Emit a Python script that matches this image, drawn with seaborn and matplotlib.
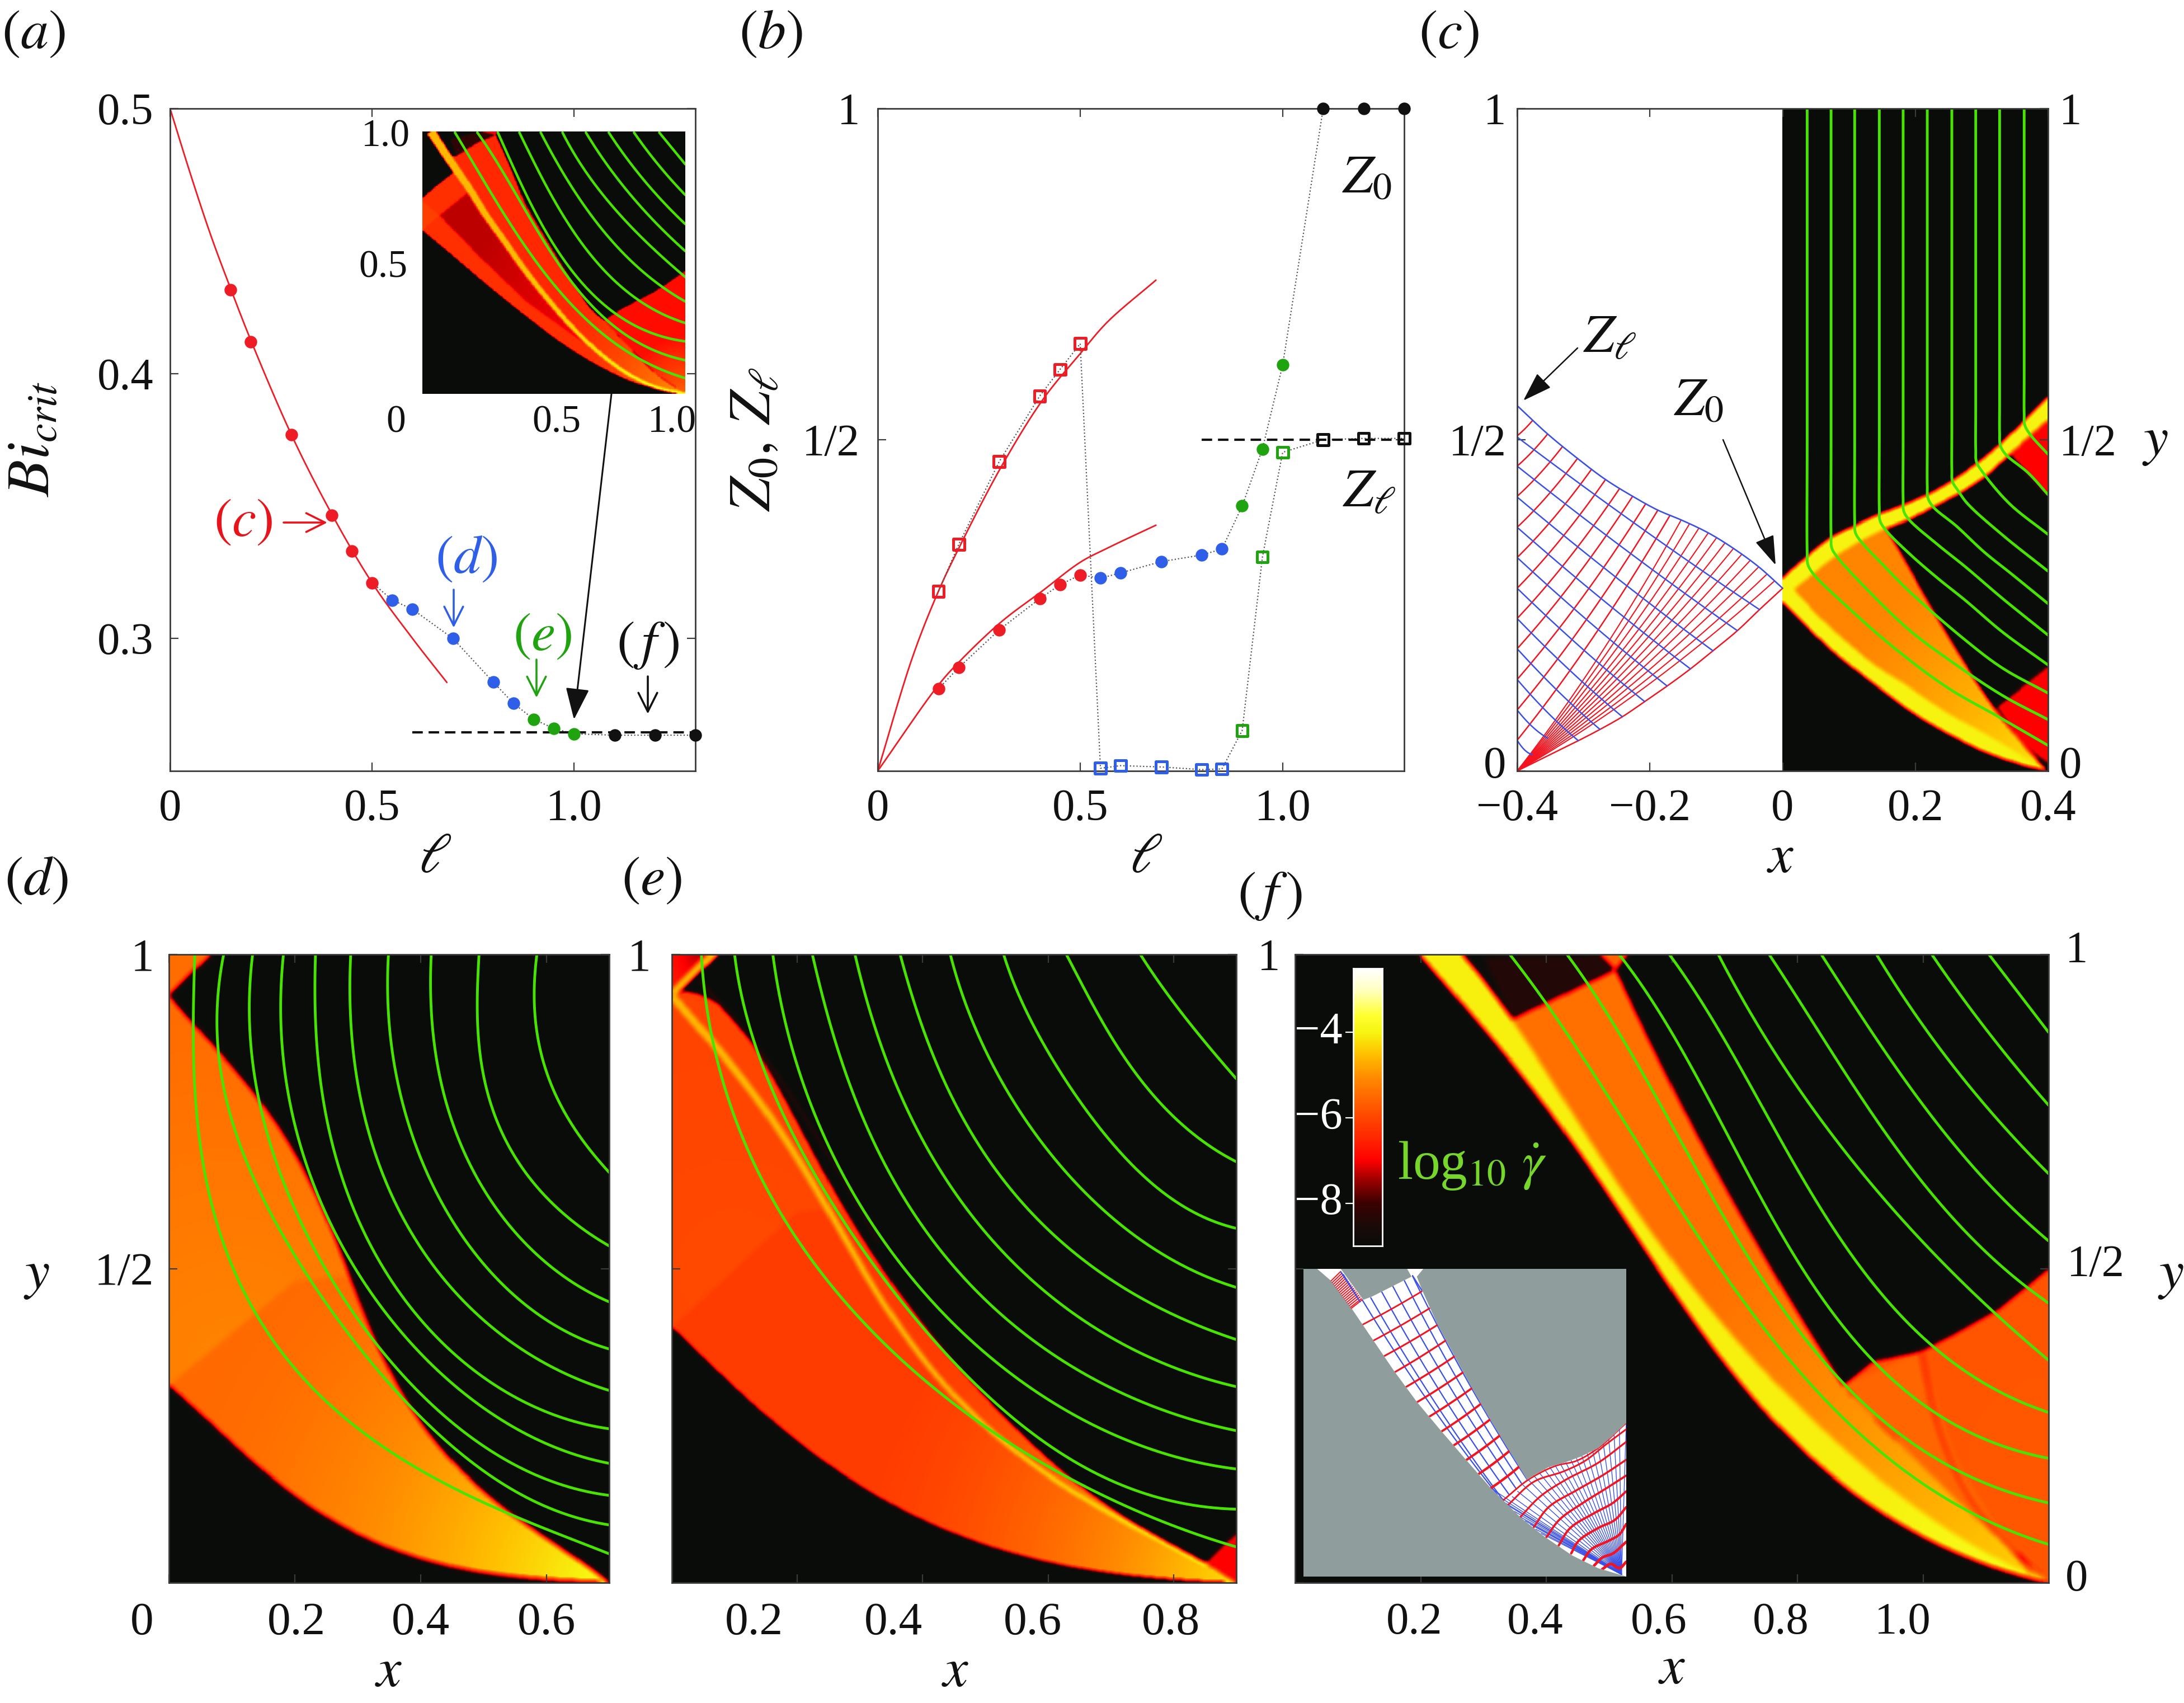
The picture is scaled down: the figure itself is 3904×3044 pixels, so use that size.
import numpy as np, pandas as pd
import matplotlib
matplotlib.use("Agg")
import matplotlib.pyplot as plt
import seaborn as sns
from matplotlib.path import Path
from matplotlib.patches import Polygon, FancyArrowPatch
from matplotlib.colors import LinearSegmentedColormap
from matplotlib.transforms import Affine2D

W, H = 3905, 3044
sns.set_theme(style="white")
plt.rcParams.update({"font.family": ["Liberation Serif", "DejaVu Serif"], "mathtext.fontset": "stix"})

RED, BLUE, GREEN, BLACK = "#ee1c25", "#2f5fe8", "#1fa30f", "#111111"
LINE_G = "#48e400"
M_BLUE, M_RED = "#3a50e6", "#f2141f"
SPINE = "#3a3a3a"

# ---------- panel a / b data ----------
ell_red = [.15, .2, .3, .4, .45, .5]
ell_blue = [.55, .6, .7, .8, .85]
ell_green = [.9, .95, 1.0]
ell_black = [1.1, 1.2, 1.3]
bi_red = [.4315, .412, .377, .3465, .333, .321]
bi_blue = [.3145, .311, .3, .2835, .2755]
bi_green = [.2695, .266, .264]
bi_black = [.2635, .2635, .2635]
bi_curve_x = [0, .05, .1, .15, .2, .3, .4, .5, .6, .685]
bi_curve_y = [.5, .4755, .4525, .432, .4125, .377, .347, .321, .3, .2834]

z0_red = [.124, .156, .213, .26, .281, .296]
z0_blue = [.291, .299, .316, .326, .335]
z0_green = [.40, .486, .613]
z0_black = [1, 1, 1]
zl_red = [.271, .342, .467, .566, .606, .645]
zl_blue = [.004, .008, .006, .002, .003]
zl_green = [.061, .323, .481]
zl_black = [.50, .502, .502]
zup_x = [0, .086, .149, .2, .303, .407, .5, .566, .687]
zup_y = [0, .172, .27, .336, .457, .56, .63, .677, .741]
zlo_x = [0, .149, .2, .303, .407, .5, .566, .687]
zlo_y = [0, .129, .164, .224, .272, .315, .336, .371]

# ---------- colour scale ----------
V_MIN, V_MAX = -9, -2.5
cstops = [(-9, "#0a0c0a"), (-8.5, "#1c0a08"), (-8, "#3c0000"), (-7.4, "#a80000"), (-7, "#ff0000"),
          (-6.4, "#ff2c00"), (-6, "#ff4500"), (-5.4, "#ff7000"), (-5, "#ff9000"), (-4.5, "#ffc000"),
          (-4, "#f6f410"), (-3.6, "#ffff30"), (-3, "#ffffc0"), (-2.5, "#ffffff")]
cm = LinearSegmentedColormap.from_list("gd", [((v - V_MIN) / (V_MAX - V_MIN), c) for v, c in cstops], N=512)

# ---------- helpers ----------
def axpx(l, r, t, b, **kw):
    return fig.add_axes([l / W, 1 - b / H, (r - l) / W, (b - t) / H], **kw)

def fx(px): return px / W
def fy(py): return 1 - py / H

def smooth(pts, n=14):
    """centripetal Catmull-Rom through the read-off waypoints"""
    P = np.asarray(pts, float)
    if len(P) < 3:
        return P
    Q = np.vstack([2 * P[0] - P[1], P, 2 * P[-1] - P[-2]])
    out = []
    for i in range(1, len(Q) - 2):
        p0, p1, p2, p3 = Q[i - 1], Q[i], Q[i + 1], Q[i + 2]
        t0 = 0.0
        t1 = t0 + max(np.linalg.norm(p1 - p0), 1e-9) ** .5
        t2 = t1 + max(np.linalg.norm(p2 - p1), 1e-9) ** .5
        t3 = t2 + max(np.linalg.norm(p3 - p2), 1e-9) ** .5
        t = np.linspace(t1, t2, n, endpoint=False)[:, None]
        A1 = (t1 - t) / (t1 - t0) * p0 + (t - t0) / (t1 - t0) * p1
        A2 = (t2 - t) / (t2 - t1) * p1 + (t - t1) / (t2 - t1) * p2
        A3 = (t3 - t) / (t3 - t2) * p2 + (t - t2) / (t3 - t2) * p3
        B1 = (t2 - t) / (t2 - t0) * A1 + (t - t0) / (t2 - t0) * A2
        B2 = (t3 - t) / (t3 - t1) * A2 + (t - t1) / (t3 - t1) * A3
        out.append((t2 - t) / (t2 - t1) * B1 + (t - t1) / (t2 - t1) * B2)
    return np.vstack(out + [P[-1:]])

def fit(pts, deg=4, n=120):
    """low-order curve through hand-read waypoints, removes reading wobble"""
    P = np.asarray(pts, float)
    if len(P) <= 2:
        return P
    deg = min(deg, len(P) - 1)
    t = np.r_[0, np.cumsum(np.linalg.norm(np.diff(P, axis=0), axis=1))]
    t /= t[-1]
    w = np.ones(len(P)); w[0] = w[-1] = 25
    tt = np.linspace(0, 1, n)
    return np.c_[np.polyval(np.polyfit(t, P[:, 0], deg, w=w), tt), np.polyval(np.polyfit(t, P[:, 1], deg, w=w), tt)]

def band(pts, w0, w1):
    C = smooth(pts)
    T_ = np.gradient(C, axis=0)
    T_ /= np.linalg.norm(T_, axis=1, keepdims=True)
    N = np.c_[-T_[:, 1], T_[:, 0]]
    w = np.linspace(w0, w1, len(C))[:, None]
    return np.vstack([C + N * w, (C - N * w)[::-1]])

class Field:
    def __init__(self, xlim, ylim, nx, ny):
        xs = np.linspace(*xlim, nx, endpoint=False) + (xlim[1] - xlim[0]) / nx / 2
        ys = np.linspace(*ylim, ny, endpoint=False)[::-1] + (ylim[1] - ylim[0]) / ny / 2
        self.X, self.Y = np.meshgrid(xs, ys)
        self.pts = np.c_[self.X.ravel(), self.Y.ravel()]
        self.v = np.full(self.X.shape, float(V_MIN))

    def paint(self, poly, far, near=None, tip=None, scale=1.0, p=1.0):
        m = Path(np.asarray(poly)).contains_points(self.pts).reshape(self.X.shape)
        if near is None:
            self.v[m] = far
        else:
            d = np.hypot(self.X - tip[0], self.Y - tip[1])
            f = np.clip(1 - d / scale, 0, 1) ** p
            self.v[m] = (far + (near - far) * f)[m]

    def blur(self, r):
        v = self.v
        k = np.ones(2 * r + 1) / (2 * r + 1)
        for a_ in (0, 1):
            v = np.apply_along_axis(lambda s: np.convolve(np.pad(s, r, mode="edge"), k, "valid"), a_, v)
        self.v = v

    def show(self, ax):
        sns.heatmap(pd.DataFrame(self.v), ax=ax, cmap=cm, vmin=V_MIN, vmax=V_MAX, cbar=False,
                    xticklabels=False, yticklabels=False)
        ax.set_axis_off()

def gline(ax, P, color=LINE_G, lw=3.5, ls="-", clip=None):
    P = np.asarray(P, float)
    l = sns.lineplot(x=P[:, 0], y=P[:, 1], ax=ax, sort=False, estimator=None, color=color, lw=lw,
                     linestyle=ls, errorbar=None, legend=False)
    line = l.lines[-1]
    if clip is not None:
        line.set_clip_path(clip)
    return line

def bezier(a, b, off, n=24):
    a, b = np.asarray(a, float), np.asarray(b, float)
    t = np.linspace(0, 1, n)[:, None]
    m = (a + b) / 2 + np.asarray(off, float)
    return (1 - t)**2 * a + 2 * t * (1 - t) * m + t**2 * b

def overlay(l, r, t, b, xlim, ylim, xt, xtl, yt, ytl, ypad=19, xpad=25, size=58, dx=None):
    ax = axpx(l, r, t, b)
    ax.patch.set_alpha(0)
    ax.set_xlim(xlim); ax.set_ylim(ylim)
    ax.set_xticks(xt); ax.set_xticklabels(xtl)
    ax.set_yticks(yt); ax.set_yticklabels(ytl)
    ax.tick_params(direction="in", length=11, width=1.6, color=SPINE, top=True, right=True, bottom=True, left=True,
                   labelsize=size, labelcolor="#111111")
    ax.tick_params(axis="x", pad=xpad)
    ax.tick_params(axis="y", pad=ypad)
    for s in ax.spines.values():
        s.set_visible(True); s.set_color(SPINE); s.set_linewidth(2.0)
    if dx is not None:
        for lab, d in zip(ax.get_xticklabels(), dx):
            lab.set_transform(lab.get_transform() + Affine2D().translate(d, 0))
    return ax

def T(px, py, s, size=72, color="#111111", rot=0, ha="center", va="center"):
    fig.text(fx(px), fy(py), s, fontsize=size, color=color, rotation=rot, ha=ha, va=va)

def arrow(p0, p1, color="#111111", lw=2.6, style="->,head_length=1.1,head_width=.55"):
    fig.add_artist(FancyArrowPatch((fx(p0[0]), fy(p0[1])), (fx(p1[0]), fy(p1[1])), transform=fig.transFigure,
                                   arrowstyle=style, color=color, lw=lw, mutation_scale=22, shrinkA=0, shrinkB=0))

def dots(ax, xs, ys, color, s=260):
    sns.scatterplot(x=xs, y=ys, ax=ax, color=color, s=s, marker="o", edgecolor=color, linewidth=0, clip_on=False, zorder=5, legend=False)

def squares(ax, xs, ys, color, s=200):
    ax.scatter(xs, ys, s=s, marker="s", facecolors="none", edgecolors=color, linewidths=3.6, clip_on=False, zorder=5)

fig = plt.figure(figsize=(W / 100, H / 100), dpi=100, facecolor="white")

# ================= panel a =================
axa = overlay(304, 1243, 194, 1378, (0, 1.3), (.25, .5), [0, .5, 1.0], ["0", "0.5", "1.0"],
              [.3, .4, .5], ["0.3", "0.4", "0.5"], ypad=21, xpad=23)
gline(axa, smooth(np.c_[bi_curve_x, bi_curve_y]), color=RED, lw=2.0)
allx = ell_red[-1:] + ell_blue + ell_green + ell_black
ally = bi_red[-1:] + bi_blue + bi_green + bi_black
gline(axa, np.c_[allx, ally], color="#555555", lw=1.6, ls=":")
gline(axa, [(.6, .2645), (1.3, .2645)], color=BLACK, lw=3, ls=(0, (4.5, 2.5)))
for xs, ys, c in [(ell_red, bi_red, RED), (ell_blue, bi_blue, BLUE), (ell_green, bi_green, GREEN), (ell_black, bi_black, BLACK)]:
    dots(axa, xs, ys, c)

T(62, 785, r"$Bi_{crit}$", size=78, rot=90)
T(778, 1535, r"$\ell$")
T(435, 934, r"$(c)$", color="#e8141c", size=70); arrow((507, 934), (585, 934), color="#e8141c")
T(833, 1000, r"$(d)$", color=BLUE, size=70); arrow((811, 1054), (811, 1122), color=BLUE)
T(970, 1138, r"$(e)$", color=GREEN, size=70); arrow((959, 1179), (959, 1247), color=GREEN)
T(1158, 1153, r"$(\,f\,)$", size=70); arrow((1158, 1209), (1158, 1276))

# inset of a
ia_band = [(.032, 1), (.074, .936), (.131, .851), (.181, .779), (.238, .687), (.309, .587), (.394, .466), (.479, .359),
           (.571, .253), (.677, .153), (.784, .075), (.89, .025), (1, 0)]
ia_lower = [(0, .623), (.11, .531), (.252, .41), (.394, .296), (.536, .189), (.677, .103), (.819, .039), (1, 0)]
ia_ltop = [(0, .747), (.053, .793), (.128, .851)]
ia_dark = [(.064, .68), (.181, .775), (.309, .587), (.479, .359), (.677, .153), (.571, .224), (.394, .352), (.216, .523)]
ia_sliver = [(0, .735), (.064, .68), (0, .623)]
ia_wtop = [(.131, .907), (.209, .957), (.28, .986)]
ia_wright = [(.28, .986), (.337, .858), (.394, .723), (.465, .60), (.557, .45), (.642, .323), (.691, .28)]
ia_wlow = [(.691, .28), (.784, .18), (.89, .075), (1, 0)]
ia_red = [(.691, .28), (.749, .32), (.805, .35), (.869, .382), (.926, .418), (1, .47), (1, 0), (.89, .075), (.784, .18)]
ia_fringe = [(.105, .97), (.223, 1), (.28, .986), (.209, .957), (.131, .907)]
ia_toptri = [(.223, 1), (.285, 1), (.28, .986)]
ia_green = [
    [(.124, .996), (.215, .83), (.32, .67), (.394, .566), (.535, .38), (.677, .235), (.82, .13), (1, .06)],
    [(.209, .996), (.32, .79), (.408, .694), (.571, .44), (.677, .288), (.819, .196), (1, .128)],
    [(.287, .996), (.457, .644), (.677, .345), (.82, .26), (1, .2)],
    [(.369, .996), (.53, .69), (.70, .46), (.85, .34), (1, .27)],
    [(.45, .996), (.6, .74), (.77, .53), (1, .352)],
    [(.533, .996), (.67, .78), (.83, .6), (1, .445)],
    [(.622, .996), (.75, .81), (.88, .66), (1, .544)],
    [(.709, .996), (.83, .83), (1, .647)],
    [(.805, .996), (.9, .87), (1, .758)],
    [(.901, .996), (1, .875)],
]
fa = Field((0, 1), (0, 1), 300, 300)
sb = smooth(ia_band)
fa.paint(ia_fringe, -8.2)
fa.paint(np.vstack([ia_ltop, sb[sb[:, 1] < .851], smooth(ia_lower)[::-1]]), -6.35, -5.2, (1, 0), .4, 1.2)
fa.paint(ia_dark, -7.3, -6.8, (1, 0), .95)
fa.paint(ia_sliver, -6.1)
fa.paint(ia_toptri, -7)
fa.paint(np.vstack([ia_wtop, smooth(ia_wright), smooth(ia_wlow), sb[sb[:, 1] < .907][::-1]]), -6.45, -4.9, (1, 0), .55, 1.6)
fa.paint(ia_red, -6.85, -5.6, (1, 0), .22)
fa.paint(band(ia_band, .017, .005), -4.6, -3.8, (1, 0), .95, 1.5)
fa.blur(1)
axi_b = axpx(755, 1225, 235, 704)
fa.show(axi_b)
axi = axpx(755, 1225, 235, 704)
axi.patch.set_alpha(0); axi.set_xlim(0, 1); axi.set_ylim(0, 1)
axi.set_xticks([]); axi.set_yticks([])
for s in axi.spines.values(): s.set_visible(False)
for c in ia_green: gline(axi, fit(c, 3), lw=3.2)
for s_, u, v in [("1.0", -.14, .98), ("0.5", -.15, .48), ("0", -.10, -.11), ("0.5", .51, -.11), ("1.0", .95, -.11)]:
    axi.text(u, v, s_, fontsize=50, ha="center", va="center", color="#111111", transform=axi.transAxes, clip_on=False)
arrow((1093, 704), (1026, 1286), style="-|>,head_length=1.6,head_width=.6", lw=2.2)

# ================= panel b =================
axb = overlay(1569, 2510, 194, 1378, (0, 1.3), (0, 1), [0, .5, 1.0], ["0", "0.5", "1.0"],
              [.5, 1], ["1/2", "1"], ypad=23, xpad=23)
gline(axb, smooth(np.c_[zup_x, zup_y]), color=RED, lw=2.0)
gline(axb, smooth(np.c_[zlo_x, zlo_y]), color=RED, lw=2.0)
exs = ell_red + ell_blue + ell_green + ell_black
gline(axb, np.c_[exs, z0_red + z0_blue + z0_green + z0_black], color="#555555", lw=1.6, ls=":")
gline(axb, np.c_[exs, zl_red + zl_blue + zl_green + zl_black], color="#555555", lw=1.6, ls=":")
gline(axb, [(.8, .5), (1.3, .5)], color=BLACK, lw=3, ls=(0, (4.5, 2.5)))
for xs, a_, b_, c in [(ell_red, z0_red, zl_red, RED), (ell_blue, z0_blue, zl_blue, BLUE),
                      (ell_green, z0_green, zl_green, GREEN), (ell_black, z0_black, zl_black, BLACK)]:
    dots(axb, xs, a_, c); squares(axb, xs, b_, c)
T(1350, 785, r"$Z_0,\, Z_\ell$", size=76, rot=90)
T(2049, 1535, r"$\ell$")
T(2444, 321, r"$Z_0$", size=70); T(2448, 883, r"$Z_\ell$", size=70)

# ================= panel c =================
cU = [(-.4, .5515), (-.354, .5086), (-.309, .4717), (-.267, .44), (-.226, .4146), (-.188, .3937), (-.153, .379),
      (-.112, .3594), (-.074, .3359), (-.036, .3081), (0, .2758)]
cL = [(-.4, 0), (-.308, .0456), (-.275, .0628), (-.2415, .0818), (-.208, .1046), (-.174, .1282), (-.139, .154),
      (-.105, .1814), (-.068, .2119), (-.035, .2434), (0, .2758)]
c_red_left = [.5059, .4602, .4146, .3678, .3222, .2758, .2301, .1845, .1381, .0920, .0464]
c_red_end = [-.3766, -.3541, -.3316, -.3091, -.288, -.2669, -.2457, -.226, -.2063, -.188, -.1697]
c_fan_end = [-.1528, -.1402, -.1261, -.112, -.0994, -.0867, -.074, -.0614, -.0487, -.036, -.0234, -.0121]
c_blue_left = [.504, .4602, .4135, .3678, .3222, .2758, .2301, .1845, .1381, .092, .0464]
c_blue_end_x = [-.0346, -.0684, -.105, -.1388, -.174, -.2077, -.2415, -.2753, -.3077, -.354, -.3772]
c_blue_end_y = [.2434, .2119, .1814, .154, .1282, .1046, .0818, .0628, .0456, .0494, .0247]

c_up_outer = [(0, .291), (.0118, .3024), (.0343, .322), (.0735, .353), (.1072, .3699), (.1437, .3868), (.1746, .3986),
              (.2335, .425), (.3, .47), (.35, .515), (.4, .565)]
c_up_inner = [(.0174, .2742), (.0455, .2967), (.0791, .3235), (.1156, .3459), (.1521, .3643), (.1886, .3784),
              (.2335, .4009), (.3, .44), (.35, .485), (.4, .53)]
c_low_out = [(0, .2545), (.023, .232), (.0511, .2038), (.0876, .17), (.1353, .1334), (.1914, .0912), (.2475, .0574),
             (.3037, .0293), (.3598, .0096), (.4, 0)]
c_low_in = [(.0174, .2742), (.0511, .2376), (.0932, .198), (.1409, .1588), (.1914, .1264), (.2475, .0884), (.3037, .0574),
            (.3598, .0237), (.4, 0)]
c_cap = [(0, .291), (.0174, .2742), (0, .2545)]
c_wedge_right = [(.1577, .3643), (.1858, .3193), (.2139, .2645), (.2756, .156), (.3219, .0968), (.3598, .0405), (.4, 0)]
c_red_bot = [(.3219, .0968), (.4, .1588), (.4, .01), (.3598, .0405)]
c_red_top = [(.342, .478), (.4, .53), (.4, .414)]
c_green = [
    [(.037, 1), (.037, .5), (.037, .33), (.038, .312), (.0469, .2967), (.0932, .2517), (.1633, .1898), (.2475, .1264), (.3261, .0813), (.4, .0385)],
    [(.073, 1), (.073, .5), (.073, .355), (.074, .337), (.0819, .3235), (.1353, .2658), (.1914, .2123), (.2475, .17), (.3317, .1137), (.4, .0775)],
    [(.1086, 1), (.1086, .5), (.1086, .378), (.1096, .36), (.1184, .346), (.1521, .3103), (.1914, .2706), (.2756, .1973), (.3317, .155), (.4, .1175)],
    [(.1457, 1), (.1457, .5), (.1457, .396), (.1467, .378), (.1549, .3643), (.1914, .3277), (.2335, .2911), (.2756, .2573), (.3317, .2094), (.4, .16)],
    [(.1816, 1), (.1816, .5), (.1816, .41), (.1826, .392), (.1914, .3784), (.2335, .3418), (.2756, .308), (.3317, .2601), (.4, .205)],
    [(.218, 1), (.218, .5), (.218, .43), (.219, .412), (.2275, .398), (.2616, .3699), (.3037, .3305), (.3458, .2967), (.4, .2525)],
    [(.255, 1), (.255, .52), (.255, .455), (.256, .437), (.2645, .423), (.2785, .4037), (.3317, .3559), (.4, .3015)],
    [(.291, 1), (.291, .55), (.291, .485), (.292, .467), (.3, .453), (.3416, .4037), (.4, .357)],
    [(.327, 1), (.327, .56), (.327, .51), (.328, .492), (.336, .478), (.37, .45), (.4, .417)],
    [(.364, 1), (.364, .6), (.364, .54), (.365, .522), (.373, .508), (.4, .478)],
]
fc = Field((0, .4), (0, 1), 240, 590)
fc.paint(c_red_bot, -7)
fc.paint(c_red_top, -7)
fc.paint(np.vstack([smooth(c_up_inner)[:57], fit(c_wedge_right, 3), smooth(c_low_in)[::-1]]), -5.15, -4.15, (.4, 0), .36, 1.3)
fc.paint(np.vstack([smooth(c_low_out), smooth(c_low_in)[::-1]]), -4.02)
fc.paint(np.vstack([smooth(c_up_outer), smooth(c_up_inner)[::-1]]), -4.02)
fc.paint(c_cap, -4.02)
fc.blur(2)
axc_b = axpx(3186, 3661, 194, 1378)
fc.show(axc_b)
axc = overlay(2712, 3661, 194, 1378, (-.4, .4), (0, 1), [-.4, -.2, 0, .2, .4], ["\u22120.4", "\u22120.2", "0", "0.2", "0.4"],
              [0, .5, 1], ["0", "1/2", "1"], ypad=14, xpad=23)
axc.tick_params(axis="y", labelright=True)
t0 = axc.yaxis.get_major_ticks()[0]
t0.label1.set_transform(t0.label1.get_transform() + Affine2D().translate(0, 16))
t0.label2.set_transform(t0.label2.get_transform() + Affine2D().translate(0, 16))
for c in c_green: gline(axc, smooth(c))
Ucv, Lcv = smooth(cU), smooth(cL)
for y0, xe in zip(c_red_left, c_red_end):
    ye = np.interp(xe, Ucv[:, 0], Ucv[:, 1])
    L_ = np.hypot(xe + .4, ye - y0)
    gline(axc, bezier((-.4, y0), (xe, ye), (0, -.065 * L_)), color=M_RED, lw=1.8)
for xe in c_fan_end:
    ye = np.interp(xe, Ucv[:, 0], Ucv[:, 1])
    gline(axc, bezier((-.4, 0), (xe, ye), (0, -.032)), color=M_RED, lw=1.5)
gline(axc, Lcv, color=M_RED, lw=1.8)
for y0, xe, ye in zip(c_blue_left, c_blue_end_x, c_blue_end_y):
    gline(axc, bezier((-.4, y0), (xe, ye), (0, -.008)), color=M_BLUE, lw=1.8)
gline(axc, Ucv, color=M_BLUE, lw=1.9)
T(3183, 1535, r"$x$")
T(3853, 790, r"$y$")
T(2878, 607, r"$Z_\ell$", size=70); arrow((2820, 622), (2723, 716), style="-|>,head_length=1.5,head_width=.5", lw=1.8)
T(3037, 719, r"$Z_0$", size=70); arrow((3080, 786), (3174, 1010), style="-|>,head_length=1.5,head_width=.5", lw=1.8)

# ================= panel d =================
d_lower = [(0, .314), (.119, .206), (.248, .106), (.373, .048), (.507, .015), (.7, 0)]
d_upper = [(0, .935), (.093, .83), (.158, .746), (.236, .622), (.287, .489), (.326, .381), (.417, .239), (.559, .098), (.7, 0)]
d_seam = [(0, .314), (.2, .48), (.3, .49), (.3, .7), (.1, .9), (0, .935)]
d_top = [(0, 1), (.067, 1), (0, .935)]
d_green = [
    [(.041, 1), (.045, .78), (.067, .598), (.119, .455), (.223, .322), (.378, .19), (.559, .103), (.7, .046)],
    [(.087, 1), (.091, .821), (.119, .663), (.184, .522), (.301, .405), (.43, .231), (.559, .136), (.7, .092)],
    [(.133, 1), (.135, .863), (.158, .696), (.223, .53), (.313, .422), (.417, .28), (.559, .181), (.7, .139)],
    [(.182, 1), (.181, .913), (.197, .738), (.248, .58), (.352, .43), (.507, .27), (.7, .19)],
    [(.233, 1), (.232, .913), (.248, .755), (.3, .58), (.404, .414), (.546, .298), (.7, .245)],
    [(.289, 1), (.287, .913), (.307, .763), (.365, .597), (.481, .431), (.585, .36), (.7, .306)],
    [(.349, 1), (.349, .913), (.371, .763), (.43, .613), (.533, .472), (.7, .372)],
    [(.417, 1), (.417, .921), (.436, .78), (.494, .638), (.585, .522), (.7, .447)],
    [(.493, 1), (.49, .921), (.507, .78), (.559, .663), (.637, .58), (.7, .536)],
    [(.585, 1), (.581, .921), (.595, .83), (.630, .747), (.7, .653)],
]
fd = Field((0, .7), (0, 1), 390, 560)
dU, dL = fit(d_upper, 5), fit(d_lower, 4)
fd.paint(np.vstack([dL, dU[::-1]]), -5.5, -3.85, (.7, 0), .72, 1.7)
fd.paint(d_seam, -5.5, -5.15, (.1, .35), .62)
fd.paint(np.vstack([dU, [(.8, 0), (.8, 1.1), (-.1, 1.1), (-.1, .935)]]), -9)
fd.paint(np.vstack([dL, [(.8, 0), (.8, -.1), (-.1, -.1), (-.1, .314)]]), -9)
fd.paint(d_top, -5.45)
fd.blur(3)
axd_b = axpx(302, 1089, 1706, 2829)
fd.show(axd_b)
axd = overlay(302, 1089, 1706, 2829, (0, .7), (0, 1), [0, .2, .4, .6], ["0", "0.2", "0.4", "0.6"],
              [.5, 1], ["1/2", "1"], ypad=19, xpad=25, size=60, dx=[-48, 3, 0, 0])
for c in d_green: gline(axd, fit(c, 4))
T(695, 2990, r"$x$"); T(65, 2280, r"$y$")

# ================= panel e =================
e_lower = [(0, .407), (.096, .314), (.226, .206), (.355, .123), (.485, .065), (.68, .019), (.9, 0)]
e_upper = [(0, .937), (.044, .958), (.079, .91), (.109, .875), (.148, .824), (.198, .735), (.246, .658), (.342, .489),
           (.472, .322), (.615, .19), (.77, .073), (.9, 0)]
e_band = [(.0, .934), (.038, .895), (.079, .842), (.139, .762), (.213, .658), (.265, .564), (.342, .447), (.42, .322),
          (.537, .223), (.719, .098), (.9, .002)]
e_streak = [(.044, .958), (.139, .848), (.258, .667), (.33, .54)]
e_seam = [(0, .407), (.2, .59), (.3, .6), (.2, .9), (0, .937)]
e_x = [(0, .937), (.07, 1.005)]
e_topred = [(0, 1), (.06, 1), (0, .94)]
e_redtri = [(.9, .08), (.85, .032), (.9, 0)]
e_green = [
    [(.047, 1), (.077, .863), (.102, .73), (.174, .564), (.303, .422), (.446, .298), (.602, .181), (.77, .098), (.9, .057)],
    [(.1, 1), (.128, .863), (.174, .746), (.265, .597), (.368, .456), (.485, .298), (.693, .173), (.9, .117)],
    [(.161, 1), (.2, .83), (.278, .63), (.394, .48), (.537, .331), (.719, .231), (.9, .181)],
    [(.224, 1), (.265, .846), (.342, .663), (.485, .464), (.693, .314), (.9, .242)],
    [(.292, 1), (.329, .863), (.407, .697), (.537, .514), (.719, .381), (.9, .312)],
    [(.364, 1), (.407, .863), (.485, .705), (.615, .547), (.744, .456), (.9, .387)],
    [(.444, 1), (.485, .88), (.563, .738), (.667, .613), (.9, .47)],
    [(.529, 1), (.576, .888), (.641, .78), (.744, .655), (.9, .564)],
    [(.629, 1), (.68, .904), (.744, .805), (.822, .722), (.9, .67)],
    [(.747, 1), (.796, .929), (.848, .863), (.9, .802)],
]
fe = Field((0, .9), (0, 1), 500, 560)
eU, eB = fit(e_upper, 6), fit(e_band, 6)
fe.paint(np.vstack([fit(e_lower, 4), eU[::-1]]), -6.15, -4.2, (.9, 0), .62, 1.6)
fe.paint(e_seam, -6.05, -5.95, (.1, .5), .6)
fe.paint(np.vstack([eU, [(1, 0), (1, 1.1), (-.1, 1.1)]]), -9)
fe.paint(band(e_streak, .003, .002), -8.3)
fe.paint(e_topred, -6.7, -7.4, (.05, 1), .06)
fe.paint(e_redtri, -7)
fe.paint(band(eB[::6], .0068, .003), -4.65, -3.9, (.9, 0), .55, .9)
fe.paint(band(e_x, .0065, .0065), -4.7)
fe.blur(2)
axe_b = axpx(1201, 2210, 1706, 2829)
fe.show(axe_b)
axe = overlay(1201, 2210, 1706, 2829, (0, .9), (0, 1), [.2, .4, .6, .8], ["0.2", "0.4", "0.6", "0.8"],
              [.5, 1], ["", "1"], ypad=27, xpad=25, size=60, dx=[-77, -53, -28, -5])
for c in e_green: gline(axe, fit(c, 4))
T(1708, 2990, r"$x$")

# ================= panel f =================
f_left = [(.198, 1), (.271, .904), (.356, .821), (.431, .722), (.544, .539), (.694, .339), (.845, .181), (.996, .073), (1.2, 0)]
f_right = [(.266, 1), (.346, .896), (.469, .705), (.6, .514), (.77, .314), (.93, .165), (1.071, .065), (1.2, 0)]
f_wedge_top = [(.346, .896), (.511, .975)]
f_wedge_a = [(.511, .975), (.6, .78), (.694, .622), (.873, .314)]
f_wedge_b = [(.873, .314), (.9, .28), (1.01, .18), (1.14, .048), (1.2, 0)]
f_red = [(.873, .314), (.92, .352), (.996, .368), (1.052, .397), (1.118, .434), (1.2, .5), (1.2, 0)]
f_red_in = [(.873, .314), (.996, .368), (1.05, .2), (1.17, .01)]
f_seam = [(.996, .37), (1.024, .248), (1.071, .14), (1.174, .015)]
f_dark = [(.346, .896), (.299, .995), (.505, 1), (.511, .975)]
f_toptri = [(.487, 1), (.53, 1), (.511, .975)]
f_green = [
    [(.342, 1), (.422, .879), (.525, .722), (.676, .514), (.845, .306), (1.005, .131), (1.2, .061)],
    [(.433, 1), (.553, .78), (.694, .597), (.864, .323), (.996, .206), (1.2, .127)],
    [(.516, 1), (.647, .78), (.789, .547), (.92, .347), (1.052, .248), (1.2, .198)],
    [(.596, 1), (.723, .788), (.854, .58), (.986, .397), (1.09, .322), (1.2, .271)],
    [(.674, 1), (.789, .813), (.939, .597), (1.071, .48), (1.2, .354)],
    [(.755, 1), (.864, .83), (1.005, .63), (1.2, .445)],
    [(.838, 1), (.939, .846), (1.071, .672), (1.2, .544)],
    [(.926, 1), (1.024, .854), (1.2, .651)],
    [(1.014, 1), (1.108, .871), (1.2, .76)],
    [(1.105, 1), (1.2, .876)],
]
ff = Field((0, 1.2), (0, 1), 670, 560)
fL, fR = fit(f_left, 5), fit(f_right, 5)
ff.paint(f_dark, -8.4)
ff.paint(f_red, -5.85, -5.75, (1.2, .2), .5)
ff.paint(f_red_in, -5.55)
ff.paint(np.vstack([f_wedge_top, fit(f_wedge_a, 2), fit(f_wedge_b, 2), fR[::-1]]), -5.4, -4.3, (1.2, 0), .72, 1.15)
ff.paint(f_toptri, -5.6)
ff.paint(band(f_seam, .004, .002), -6.4)
ff.paint(np.vstack([fL, fR[::-1]]), -4.05, -3.8, (1.2, 0), .3)
ff.blur(3)
axf_b = axpx(2315, 3662, 1706, 2829)
ff.show(axf_b)
axf = overlay(2315, 3662, 1706, 2829, (0, 1.2), (0, 1), [.2, .4, .6, .8, 1.0], ["0.2", "0.4", "0.6", "0.8", "1.0"],
              [0, .5, 1], ["", "", "1"], ypad=19, xpad=25, size=58, dx=[-11, -20, -23, -30, -36])
for c in f_green: gline(axf, fit(c, 3))
T(2989, 2985, r"$x$"); T(3881, 2280, r"$y$")
T(3712, 1701, "1", size=58); T(3746, 2262, "1/2", size=58); T(3712, 2824, "0", size=58)

# colour bar
cb_vals = np.linspace(V_MAX, V_MIN, 400)[:, None]
axcb = axpx(2419, 2471, 1731, 2227)
sns.heatmap(cb_vals, ax=axcb, cmap=cm, vmin=V_MIN, vmax=V_MAX, cbar=False, xticklabels=False)
cb_ticks = [-4, -6, -8]
axcb.set_yticks([(V_MAX - v) / (V_MAX - V_MIN) * 400 for v in cb_ticks])
axcb.set_yticklabels(["\u22124", "\u22126", "\u22128"], rotation=0)
axcb.tick_params(axis="y", colors="white", labelsize=58, length=10, width=1.6, pad=4, left=True)
for s in axcb.spines.values():
    s.set_visible(True); s.set_color("white"); s.set_linewidth(2)
fig.text(fx(2498), fy(2084), r"log$_{10}$ $\dot{\gamma}$", fontsize=70, color="#76d62a", ha="left", va="center")

# mesh inset of f (its own drawing units)
m_white = [(90, 48), (200, 48), (305, 195), (345, 180), (530, 85), (510, 48), (585, 48), (555, 85), (580, 150), (650, 310),
           (730, 460), (810, 610), (895, 760), (985, 910), (1070, 1050), (1100, 1030), (1170, 990), (1240, 970), (1320, 940),
           (1400, 900), (1470, 840), (1532, 780), (1532, 1510), (1400, 1470), (1280, 1410), (1150, 1320), (1040, 1230),
           (900, 1090), (780, 950), (670, 820), (555, 680), (450, 535), (350, 385), (250, 235), (155, 105)]
m_cross_a = [(298, 315), (350, 390), (398, 465), (450, 540), (503, 610), (555, 682), (610, 752), (668, 822), (722, 890), (780, 960), (840, 1025), (900, 1090)]
m_cross_b = [(578, 155), (615, 235), (655, 312), (690, 388), (732, 463), (770, 540), (812, 615), (853, 690), (895, 765), (942, 840), (985, 915), (1030, 990)]
m_long_a = [(300, 195), (340, 185), (390, 155), (440, 125), (495, 100), (535, 82)]
m_long_b = [(930, 1120), (960, 1150), (985, 1120), (1020, 1095), (1045, 1070), (1070, 1050)]
m_ray_end = [(900, 1090), (930, 1125), (960, 1155), (985, 1175), (1010, 1200), (1035, 1225), (1060, 1245), (1085, 1262), (1110, 1285), (1135, 1305), (1000, 1130), (1025, 1105), (1050, 1075),
             (1075, 1050), (1100, 1030), (1125, 1015), (1150, 1000), (1175, 990), (1200, 982), (1225, 975), (1250, 968), (1275, 958), (1300, 948),
             (1325, 938), (1350, 925), (1375, 912), (1400, 900), (1425, 880), (1450, 858), (1475, 835), (1500, 810), (1532, 780)]
m_arcs = [
    [(955, 1150), (1075, 1050), (1200, 985), (1300, 960), (1400, 900), (1532, 780)],
    [(978, 1172), (1100, 1060), (1240, 1010), (1340, 960), (1440, 880), (1532, 810)],
    [(1035, 1230), (1130, 1130), (1250, 1050), (1400, 970), (1532, 870)],
    [(1097, 1280), (1170, 1180), (1300, 1100), (1420, 1030), (1532, 955)],
    [(1158, 1325), (1220, 1240), (1330, 1160), (1440, 1090), (1532, 1030)],
    [(1215, 1365), (1270, 1280), (1380, 1210), (1470, 1160), (1532, 1105)],
    [(1275, 1400), (1310, 1340), (1400, 1280), (1480, 1240), (1532, 1180)],
    [(1330, 1435), (1370, 1380), (1450, 1340), (1500, 1310), (1532, 1260)],
    [(1380, 1460), (1420, 1420), (1470, 1400), (1532, 1345)],
    [(1420, 1475), (1460, 1450), (1500, 1470), (1532, 1440)],
]
m_patch_a = [(155, 105), (250, 235)]
m_patch_b = [(200, 60), (300, 195)]
m_patch_t = [.0, .06, .12, .18, .24, .3, .36, .42, .48, .54, .6, .66, .72, .78, .84, .9, .96, 1.0]
axm = axpx(2330, 2907, 2268, 2818)
axm.set_xlim(26, 1532); axm.set_ylim(1510, 48); axm.set_xticks([]); axm.set_yticks([])
axm.set_facecolor("#8f9e9c")
for s in axm.spines.values(): s.set_visible(False)
wp = Polygon(m_white, closed=True, fc="white", ec="none", transform=axm.transData)
axm.add_patch(wp)
for e_ in m_ray_end:
    gline(axm, [(1510, 1500), e_], color=M_BLUE, lw=1.0, clip=wp)
for a_, b_ in zip(m_long_a, m_long_b):
    gline(axm, bezier(a_, b_, (-25, 25)), color=M_BLUE, lw=1.6, clip=wp)
for a_, b_, w_ in zip(m_cross_a, m_cross_b, np.linspace(2, 3.2, 12)):
    gline(axm, bezier(a_, b_, (0, 6)), color=M_RED, lw=w_, clip=wp)
for a_, w_ in zip(m_arcs, np.linspace(2, 3.6, 10)):
    gline(axm, smooth(a_), color=M_RED, lw=w_, clip=wp)
for t_ in m_patch_t:
    a_ = np.array(m_patch_a[0]) * (1 - t_) + np.array(m_patch_a[1]) * t_
    b_ = np.array(m_patch_b[0]) * (1 - t_) + np.array(m_patch_b[1]) * t_
    gline(axm, [a_, b_], color=M_RED, lw=1.4)
gline(axm, [(212, 75), (290, 205)], color=M_BLUE, lw=1.6)
gline(axm, [(200, 62), (272, 175)], color=M_BLUE, lw=1.6)
gline(axm, [(535, 80), (578, 150)], color=M_BLUE, lw=1.6)

# panel letters
T(60, 62, r"$(a)$"); T(1378, 62, r"$(b)$"); T(2590, 62, r"$(c)$")
T(65, 1575, r"$(d)$"); T(1165, 1575, r"$(e)$"); T(2270, 1602, r"$(\,f\,)$")

fig.savefig("out.png", dpi=100, facecolor="white")
